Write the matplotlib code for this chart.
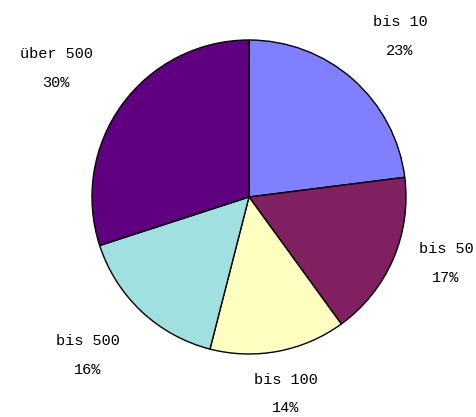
import matplotlib
matplotlib.use("Agg")
import matplotlib.pyplot as plt

# slice data, clockwise from 12 o'clock
categories = ["bis 10", "bis 50", "bis 100", "bis 500", "über 500"]
shares = [23, 17, 14, 16, 30]
colors = ["#8080FF", "#802060", "#FFFFC0", "#A0E0E0", "#600080"]

# label centres in pixels of the original picture (x, y from top-left)
label_px = [(400, 36.5), (446, 263.5), (286, 394), (88, 355.5), (56, 68.5)]

W, H = 477, 417
cx, cy, r = 249, 197, 157

fig = plt.figure(figsize=(W / 100, H / 100), dpi=100)
ax = fig.add_axes([(cx - r) / W, (H - cy - r) / H, 2 * r / W, 2 * r / H])

ax.pie(shares, colors=colors, startangle=90, counterclock=False,
       wedgeprops=dict(edgecolor="black", linewidth=1.0))
ax.set_xlim(-1, 1)
ax.set_ylim(-1, 1)
ax.set_aspect("auto")
ax.axis("off")

for name, val, (px, py) in zip(categories, shares, label_px):
    x = (px - cx) / r
    y = (cy - py) / r
    ax.text(x, y, f"{name}\n{val}%", ha="center", va="center",
            family="Liberation Mono", fontsize=11, linespacing=2.3,
            clip_on=False)

fig.savefig("out.png", dpi=100)
